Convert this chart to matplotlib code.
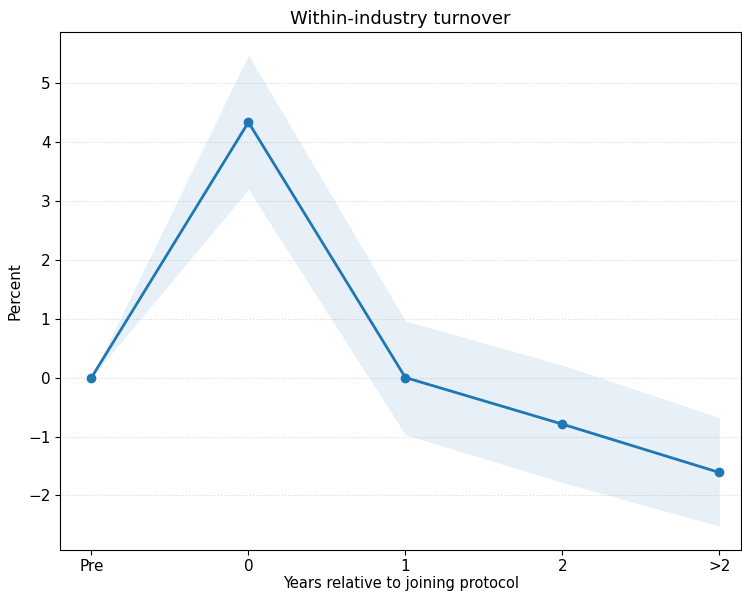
import matplotlib.pyplot as plt
import numpy as np

# event-study estimates, within-industry turnover
periods = ["Pre", "0", "1", "2", ">2"]
coef = [0.0, 4.33, 0.0, -0.79, -1.61]
ci_low = [0.0, 3.19, -0.97, -1.78, -2.52]
ci_high = [0.0, 5.47, 0.96, 0.21, -0.68]

x = np.arange(len(periods))

fig = plt.figure(figsize=(7.42, 5.93), dpi=100)
ax = fig.add_axes([0.081, 0.073, 0.918, 0.873])

ax.fill_between(x, ci_low, ci_high, color="#1f77b4", alpha=0.11, linewidth=0)
ax.plot(x, coef, color="#1f77b4", marker="o", linewidth=2, markersize=6)

ax.set_xticks(x)
ax.set_xticklabels(periods, fontsize=11)
ax.tick_params(axis="y", labelsize=11)
ax.set_yticks(range(-2, 6))
ax.set_yticklabels([f"{v}" if v >= 0 else f"\u2212{-v}" for v in range(-2, 6)])
ax.set_xlim(-0.2, 4.14)
ax.set_ylim(-2.92, 5.86)

ax.yaxis.grid(True, linestyle=(0, (1, 2)), color="#d0d0d0", linewidth=0.7)
ax.set_axisbelow(True)

ax.set_title("Within-industry turnover", fontsize=13)
ax.set_xlabel("Years relative to joining protocol", fontsize=10.5, labelpad=1)
ax.set_ylabel("Percent", fontsize=11)

fig.savefig("out.png", dpi=100)
